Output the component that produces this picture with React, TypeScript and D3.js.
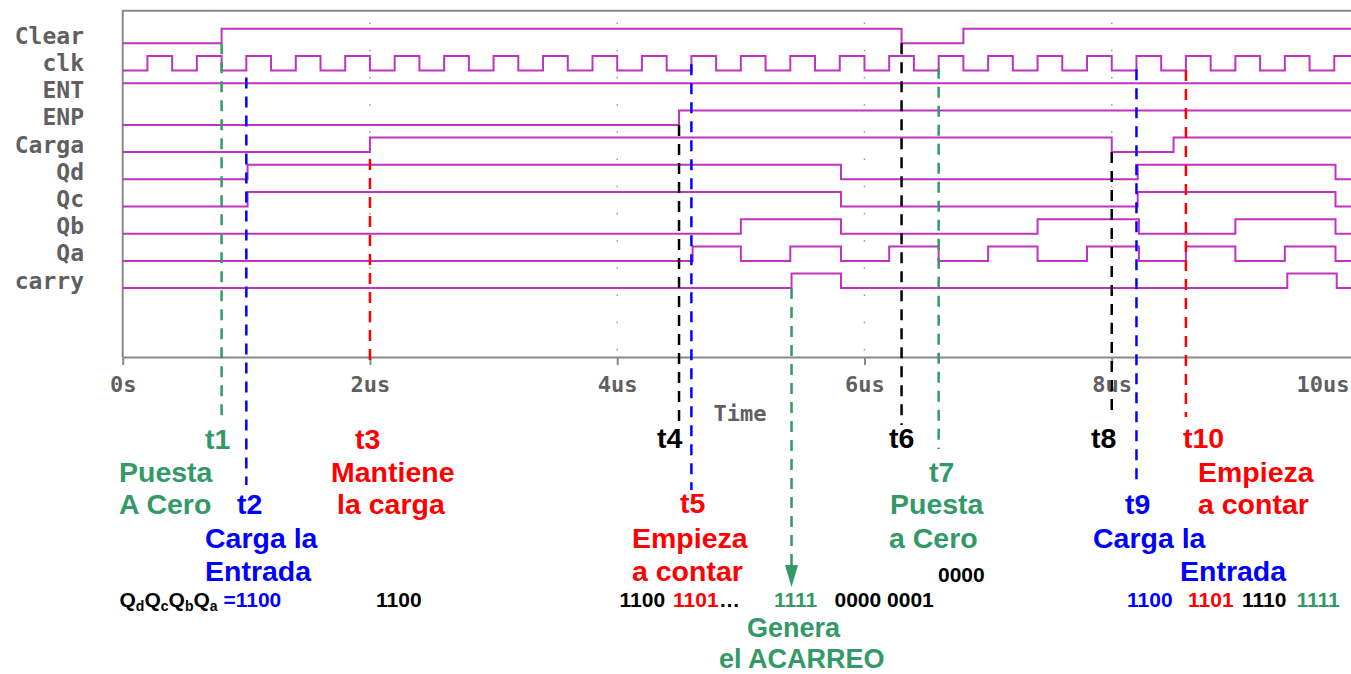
import * as d3 from "d3";
import React, { useEffect, useRef } from "react";

const W = 1351;
const H = 674;

// signals (time in us, start level then edge times)
const signalNames = ["Clear", "clk", "ENT", "ENP", "Carga", "Qd", "Qc", "Qb", "Qa", "carry"];
const signalStart = [0, 0, 1, 0, 0, 0, 0, 0, 0, 0];
const clearEdges = [0.8, 6.3, 6.8];
const clkEdges = [
  0.2, 0.4, 0.6, 0.8, 1.0, 1.2, 1.4, 1.6, 1.8, 2.0, 2.2, 2.4, 2.6, 2.8, 3.0, 3.2, 3.4,
  3.6, 3.8, 4.0, 4.2, 4.4, 4.6, 4.8, 5.0, 5.2, 5.4, 5.6, 5.8, 6.0, 6.2, 6.4, 6.6, 6.8,
  7.0, 7.2, 7.4, 7.6, 7.8, 8.0, 8.2, 8.4, 8.6, 8.8, 9.0, 9.2, 9.4, 9.6, 9.8,
];
const entEdges: number[] = [];
const enpEdges = [4.5];
const cargaEdges = [2.0, 8.0, 8.5];
const qdEdges = [1.01, 5.81, 8.21, 9.81];
const qcEdges = [1.01, 5.81, 8.21, 9.81];
const qbEdges = [5.0, 5.81, 7.4, 8.22, 9.0, 9.81];
const qaEdges = [4.61, 5.0, 5.4, 5.81, 6.2, 6.6, 7.0, 7.4, 7.8, 8.22, 8.6, 9.0, 9.4, 9.81];
const carryEdges = [5.41, 5.81, 9.42, 9.82];
const signalEdges = [clearEdges, clkEdges, entEdges, enpEdges, cargaEdges, qdEdges, qcEdges, qbEdges, qaEdges, carryEdges];

const tickValues = [0, 2, 4, 6, 8, 10];
const tickLabels = ["0s", "2us", "4us", "6us", "8us", "10us"];

// cursors
const markerNames = ["t1", "t2", "t3", "t4", "t5", "carry", "t6", "t7", "t8", "t9", "t10"];
const markerTimes = [0.8, 1.0, 2.0, 4.5, 4.6, 5.41, 6.3, 6.6, 8.0, 8.2, 8.6];

// annotation texts
const noteTexts = [
  "t1", "Puesta", "A Cero", "t2", "Carga la", "Entrada", "t3", "Mantiene", "la carga",
  "t4", "t5", "Empieza", "a contar", "t6", "t7", "Puesta", "a Cero",
  "t8", "t9", "Carga la", "Entrada", "t10", "Empieza", "a contar", "Genera", "el ACARREO",
];
const stateTexts = ["1100", "1100", "1101", "…", "1111", "0000 0001", "0000", "1100", "1101", "1110", "1111"];

// ---- styling / layout ----
const GREEN = "#339966";
const BLUE = "#0000ff";
const RED = "#ff0000";
const BLACK = "#000000";
const WAVE = "#c033c0";
const FRAME = "#888888";
const LABEL = "#606060";

const markerColors = [GREEN, BLUE, RED, BLACK, BLUE, GREEN, BLACK, GREEN, BLACK, BLUE, RED];
const markerFromLane = [0, 1.26, 4.25, 3, 0.77, 9, 0, 0.9, 4, 0.95, 0.98];
const markerToY = [417, 485, 368, 423, 490, 565, 425, 449, 415, 484, 417];

const noteColors = [
  GREEN, GREEN, GREEN, BLUE, BLUE, BLUE, RED, RED, RED,
  BLACK, RED, RED, RED, BLACK, GREEN, GREEN, GREEN,
  BLACK, BLUE, BLUE, BLUE, RED, RED, RED, GREEN, GREEN,
];
const noteX = [
  205, 119, 119, 237, 205, 205, 355, 331, 337,
  657, 680, 632, 632, 889, 929, 890, 889,
  1091, 1125, 1093, 1180, 1183, 1198, 1198, 747, 719,
];
const noteY = [
  449, 482, 514, 514, 548, 581, 449, 482, 514,
  448, 513, 548, 581, 448, 482, 514, 548,
  448, 514, 548, 581, 448, 482, 514, 637, 668,
];
const noteSize = noteTexts.map((_d, i) => (i >= 24 ? 27 : 28.5));
const stateColors = [BLACK, BLACK, RED, BLACK, GREEN, BLACK, BLACK, BLUE, RED, BLACK, GREEN];
const stateX = [376, 619.5, 673, 719, 774, 834.5, 938, 1127, 1188, 1242, 1296.5];
const stateY = [607, 607, 607, 607, 607, 607, 582, 607, 607, 607, 607, 607];

export default function App() {
  const ref = useRef<SVGSVGElement | null>(null);

  useEffect(() => {
    const svg = d3.select(ref.current);
    svg.selectAll("*").remove();

    const x = d3.scaleLinear().domain([0, 10]).range([122.7, 1359]);
    const yLane = d3.scaleLinear().domain([0, 9]).range([43.3, 288.1]);
    const yLevel = d3.scaleLinear().domain([0, 1]).range([0, -14.5]);
    const yDots = d3.scaleLinear().domain([0, 12]).range([23.3, 349.7]);
    const axisY = 357;

    svg.append("rect").attr("width", W).attr("height", H).attr("fill", "#fff");

    // frame
    svg.append("line")
      .attr("x1", x(0)).attr("x2", W).attr("y1", 10.7).attr("y2", 10.7)
      .attr("stroke", FRAME).attr("stroke-width", 2);
    svg.append("line")
      .attr("x1", x(0)).attr("x2", x(0)).attr("y1", 10).attr("y2", axisY)
      .attr("stroke", FRAME).attr("stroke-width", 2);

    // grid dots
    const dotRows = d3.range(13);
    tickValues.slice(1, 5).forEach((t) => {
      svg.append("g")
        .selectAll("rect")
        .data(dotRows)
        .enter()
        .append("rect")
        .attr("x", x(t) - 0.75)
        .attr("y", (d) => yDots(d) - 0.75)
        .attr("width", 1.5)
        .attr("height", 1.5)
        .attr("fill", "#999");
    });

    // axis
    const axis = svg.append("g")
      .attr("transform", `translate(0,${axisY})`)
      .call(
        d3.axisBottom(x)
          .tickValues(tickValues)
          .tickFormat((_d, i) => tickLabels[i])
          .tickSize(8)
          .tickSizeOuter(0)
          .tickPadding(11)
      );
    axis.select(".domain").attr("stroke", FRAME).attr("stroke-width", 2);
    axis.selectAll(".tick line").attr("stroke", FRAME).attr("stroke-width", 2);
    axis.selectAll(".tick text")
      .attr("fill", LABEL)
      .attr("font-family", "'DejaVu Sans Mono', monospace")
      .attr("font-weight", "bold")
      .attr("font-size", 22);
    axis.selectAll<SVGTextElement, number>(".tick text")
      .filter((d) => d === 10)
      .attr("text-anchor", "end")
      .attr("x", -10);

    svg.append("text")
      .attr("x", 740).attr("y", 421)
      .attr("text-anchor", "middle")
      .attr("fill", LABEL)
      .attr("font-family", "'DejaVu Sans Mono', monospace")
      .attr("font-weight", "bold")
      .attr("font-size", 22)
      .text("Time");

    // signal names
    svg.append("g")
      .selectAll("text")
      .data(signalNames)
      .enter()
      .append("text")
      .attr("x", 84)
      .attr("y", (_d, i) => yLane(i) + 0.5)
      .attr("text-anchor", "end")
      .attr("fill", LABEL)
      .attr("font-family", "'DejaVu Sans Mono', monospace")
      .attr("font-weight", "bold")
      .attr("font-size", 23)
      .text((d) => d);

    // waveforms
    const line = d3.line<[number, number]>()
      .x((d) => x(d[0]))
      .y((d) => d[1])
      .curve(d3.curveStepAfter);

    signalEdges.forEach((edges, i) => {
      let lvl = signalStart[i];
      const pts: [number, number][] = [[0, yLane(i) + yLevel(lvl)]];
      edges.forEach((t) => {
        lvl = 1 - lvl;
        pts.push([t, yLane(i) + yLevel(lvl)]);
      });
      pts.push([10, yLane(i) + yLevel(lvl)]);
      svg.append("path")
        .attr("d", line(pts))
        .attr("fill", "none")
        .attr("stroke", WAVE)
        .attr("stroke-width", 2);
    });

    // cursors
    markerTimes.forEach((t, i) => {
      svg.append("line")
        .attr("x1", x(t)).attr("x2", x(t))
        .attr("y1", yLane(markerFromLane[i]))
        .attr("y2", markerToY[i])
        .attr("stroke", markerColors[i])
        .attr("stroke-width", 2.5)
        .attr("stroke-dasharray", "11,8");
      if (markerNames[i] === "carry") {
        const cx = x(t);
        const y0 = markerToY[i];
        svg.append("path")
          .attr("d", `M${cx - 6.5},${y0} L${cx + 6.5},${y0} L${cx},${y0 + 22} Z`)
          .attr("fill", markerColors[i]);
      }
    });

    // annotations
    svg.append("g")
      .selectAll("text")
      .data(noteTexts)
      .enter()
      .append("text")
      .attr("x", (_d, i) => noteX[i])
      .attr("y", (_d, i) => noteY[i])
      .attr("fill", (_d, i) => noteColors[i])
      .attr("font-family", "'Liberation Sans', Arial, sans-serif")
      .attr("font-weight", "bold")
      .attr("font-size", (_d, i) => noteSize[i])
      .text((d) => d);

    svg.append("g")
      .selectAll("text")
      .data(stateTexts)
      .enter()
      .append("text")
      .attr("x", (_d, i) => stateX[i])
      .attr("y", (_d, i) => stateY[i])
      .attr("fill", (_d, i) => stateColors[i])
      .attr("font-family", "'Liberation Sans', Arial, sans-serif")
      .attr("font-weight", "bold")
      .attr("font-size", 21)
      .text((d) => d);

    // Qd Qc Qb Qa label
    const q = svg.append("text")
      .attr("x", 119.5).attr("y", 607)
      .attr("font-family", "'Liberation Sans', Arial, sans-serif")
      .attr("font-weight", "bold")
      .attr("font-size", 21)
      .attr("fill", BLACK);
    ["d", "c", "b", "a"].forEach((s, i) => {
      q.append("tspan").attr("dy", i === 0 ? 0 : -4).text("Q");
      q.append("tspan").attr("dy", 4).attr("font-size", 14).text(s);
    });
    q.append("tspan").attr("dy", -4).attr("fill", BLUE).text(" =1100");
  }, []);

  return (
    <svg
      ref={ref}
      width={W}
      height={H}
      style={{ position: "absolute", left: 0, top: 0, display: "block" }}
    />
  );
}
